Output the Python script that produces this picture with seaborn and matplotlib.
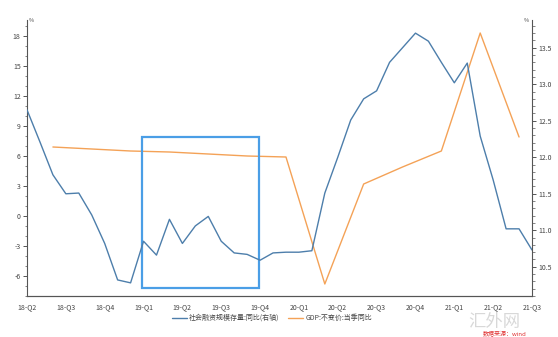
import numpy as np
import pandas as pd
import matplotlib
matplotlib.use("Agg")
import matplotlib.pyplot as plt
import seaborn as sns
from matplotlib.ticker import MultipleLocator, FixedLocator
from matplotlib.lines import Line2D
from matplotlib.patches import Rectangle

# ---------------- data ----------------
quarter_labels = ["18-Q2", "18-Q3", "18-Q4", "19-Q1", "19-Q2", "19-Q3", "19-Q4",
                  "20-Q1", "20-Q2", "20-Q3", "20-Q4", "21-Q1", "21-Q2", "21-Q3"]

# monthly index: 0 = 2018-04 ... 39 = 2021-07
tsf_months = list(range(40))
tsf_growth = [12.65, 12.21, 11.76, 11.50, 11.51, 11.21, 10.82, 10.32, 10.28, 10.85,
              10.66, 11.15, 10.82, 11.06, 11.19, 10.85, 10.69, 10.67, 10.59, 10.69,
              10.70, 10.70, 10.72, 11.51, 12.00, 12.51, 12.80, 12.91, 13.30, 13.50,
              13.70, 13.59, 13.30, 13.02, 13.29, 12.29, 11.69, 11.02, 11.02, 10.73]

# quarterly GDP, placed at last month of quarter
gdp_months = [2, 5, 8, 11, 14, 17, 20, 23, 26, 29, 32, 35, 38]
gdp_growth = [6.9, 6.7, 6.5, 6.4, 6.2, 6.0, 5.9, -6.8, 3.2, 4.9, 6.5, 18.3, 7.9]

legend_labels = ["社会融资规模存量:同比(右轴)", "GDP:不变价:当季同比"]

# highlighted window (months, left-axis units)
box_x0, box_x1 = 8.9, 17.9
box_y0, box_y1 = -7.2, 7.9

# ---------------- style ----------------
sns.set_style("white")
plt.rcParams["font.family"] = ["Noto Sans CJK SC", "DejaVu Sans"]
plt.rcParams["axes.unicode_minus"] = False

c_blue = "#4d7eab"
c_orange = "#f4a257"
c_box = "#4a9ee6"
c_axis = "#555555"
c_text = "#444444"

fig = plt.figure(figsize=(5.58, 3.37), dpi=100)
ax = fig.add_axes([27 / 558, 1 - 296 / 337, (532 - 27) / 558, (296 - 20) / 337])
ax2 = ax.twinx()

df_tsf = pd.DataFrame({"month": tsf_months, "value": tsf_growth})
df_gdp = pd.DataFrame({"month": gdp_months, "value": gdp_growth})

sns.lineplot(data=df_gdp, x="month", y="value", ax=ax, color=c_orange, linewidth=1.0)
sns.lineplot(data=df_tsf, x="month", y="value", ax=ax2, color=c_blue, linewidth=1.0)

ax.add_patch(Rectangle((box_x0, box_y0), box_x1 - box_x0, box_y1 - box_y0,
                       fill=False, edgecolor=c_box, linewidth=1.6, zorder=5))

ax.set_xlim(0, 39)
ax.set_ylim(-8, 19.6)
ax2.set_ylim(10.10, 13.88)

ax.xaxis.set_major_locator(FixedLocator(list(range(0, 40, 3))))
ax.set_xticklabels(quarter_labels)
ax.xaxis.set_minor_locator(MultipleLocator(1))
ax.yaxis.set_major_locator(FixedLocator([-6, -3, 0, 3, 6, 9, 12, 15, 18]))
ax.yaxis.set_minor_locator(MultipleLocator(1))
ax2.yaxis.set_major_locator(FixedLocator([10.5, 11.0, 11.5, 12.0, 12.5, 13.0, 13.5]))
ax2.yaxis.set_minor_locator(MultipleLocator(0.1))
ax2.set_yticklabels(["10.5", "11.0", "11.5", "12.0", "12.5", "13.0", "13.5"])

for a in (ax, ax2):
    a.set_xlabel("")
    a.set_ylabel("")
    for s in a.spines.values():
        s.set_color(c_axis)
        s.set_linewidth(0.8)
    a.spines["top"].set_visible(False)
    a.tick_params(which="major", direction="out", length=3, width=0.7, color=c_axis,
                  labelsize=5, labelcolor=c_text, pad=1.5)
    a.tick_params(which="minor", direction="out", length=1.8, width=0.5, color=c_axis)
ax.spines["right"].set_visible(False)
ax2.spines["left"].set_visible(False)
ax.tick_params(axis="x", which="major", pad=2)

fig.text(29 / 558, 1 - 20 / 337, "%", fontsize=4, color=c_text, ha="left", va="center")
fig.text(529 / 558, 1 - 20 / 337, "%", fontsize=4, color=c_text, ha="right", va="center")

handles = [Line2D([0], [0], color=c_blue, lw=1.0), Line2D([0], [0], color=c_orange, lw=1.0)]
fig.legend(handles, legend_labels, loc="center", bbox_to_anchor=(272 / 558, 1 - 318 / 337),
           ncol=2, frameon=False, fontsize=5, handlelength=2.2, handletextpad=0.3,
           columnspacing=1.2, labelcolor=c_text)

# watermark
fig.text(494 / 558, 1 - 321.5 / 337, "汇外网", fontsize=12.5, color="#cfcfcf", alpha=0.8,
         ha="center", va="center", family=["Noto Sans CJK SC", "DejaVu Sans"], zorder=0)
fig.text(505 / 558, 1 - 334.5 / 337, "数据来源：wind", fontsize=4.3, color="#e03030",
         style="italic", ha="center", va="center")

fig.savefig("out.png", dpi=100)
